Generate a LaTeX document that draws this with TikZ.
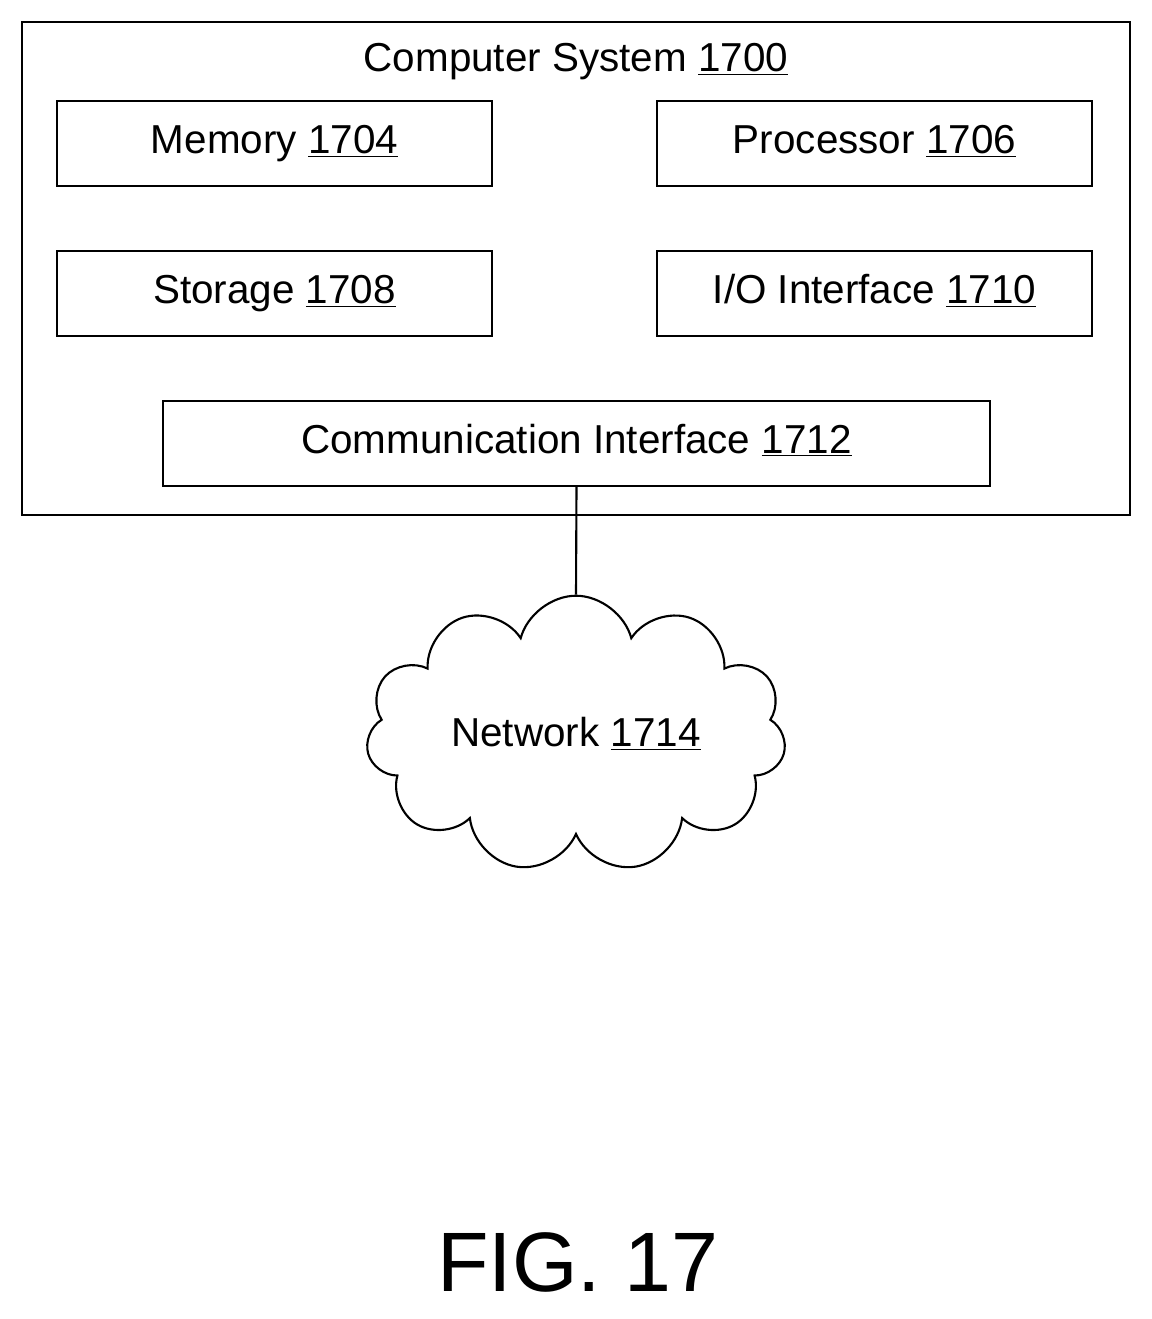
\documentclass[tikz,border=0pt]{standalone}
\usepackage{fontspec}
\setmainfont{Liberation Sans}
\usetikzlibrary{shapes.symbols}
\begin{document}
\begin{tikzpicture}[x=0.02cm, y=-0.02cm,
    box/.style={draw, line width=1.2pt, minimum width=8.7cm, minimum height=1.7cm,
      font=\fontsize{23}{28}\selectfont},
    lbl/.style={font=\fontsize{23}{28}\selectfont}]
      \useasboundingbox (0,0) rectangle (1152,1319);

      \draw[line width=1.2pt] (22,22) rectangle (1130,515);
      \node[lbl] (title) at (576,62) {Computer System \underline{1700}};

      \node[box] (mem) at (274.5,143.5) {Memory \underline{1704}\strut};
      \node[box] (proc) at (874.5,143.5) {Processor \underline{1706}\strut};
      \node[box] (stor) at (274.5,293.5) {Storage \underline{1708}\strut};
      \node[box] (io) at (874.5,293.5) {I/O Interface \underline{1710}\strut};
      \node[box, minimum width=16.54cm] (comm) at (576.5,443.5)
        {Communication Interface \underline{1712}\strut};

      \node[draw, line width=1.2pt, cloud, cloud puffs=11, aspect=1.8,
        minimum width=8.4cm, minimum height=4.4cm, lbl] (net) at (576,734)
        {Network \underline{1714}};

      \draw[line width=1.2pt] (comm.south) -- (net.north);

      \node[font=\fontsize{48}{56}\selectfont] (fig) at (578,1262) {FIG. 17};
    \end{tikzpicture}
\end{document}
